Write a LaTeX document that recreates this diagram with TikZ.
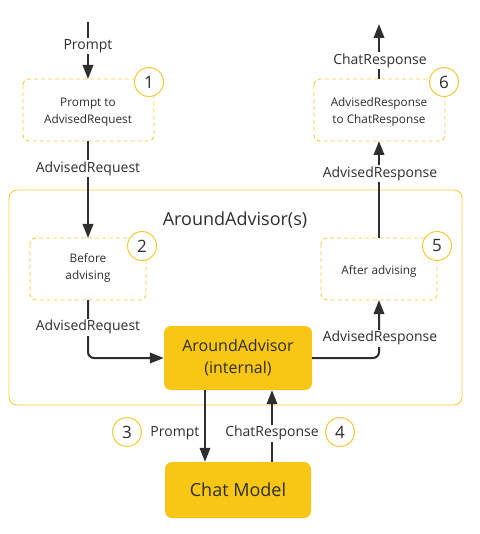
\documentclass[tikz,border=0pt]{standalone}
\usepackage{fontspec}
\setmainfont{Open Sans}
\usetikzlibrary{arrows.meta}
\definecolor{ylw}{HTML}{F8C614}
\definecolor{ylwline}{HTML}{F5CA3A}
\definecolor{ink}{HTML}{2E2E2E}
\begin{document}
\begin{tikzpicture}[x=1pt,y=-1pt,
  flow/.style={draw=ink,line width=2pt,-{Triangle[length=14pt,width=10.5pt]}},
  lbl/.style={fill=white,inner sep=1.5pt,font=\fontsize{14}{16}\selectfont,text=ink},
  stepbox/.style={draw=ylwline,dash pattern=on 4pt off 3pt,line width=0.9pt,rounded corners=6pt,fill=white},
  boxtxt/.style={font=\fontsize{11.8}{16.5}\selectfont,text=ink,align=center},
  numc/.style={circle,draw=ylwline,line width=1pt,fill=white,minimum size=29pt,inner sep=0pt,font=\fontsize{17}{17}\selectfont,text=ink},
  solidbox/.style={fill=ylw,rounded corners=7pt,text=ink,align=center}]
\useasboundingbox (0,0) rectangle (479,534);
% outer box
\draw[ylwline,line width=0.9pt,rounded corners=8pt] (9,190) rectangle (462,405);
\node[font=\fontsize{18}{20}\selectfont,text=ink] (title) at (235,220) {AroundAdvisor(s)};
% step boxes
\draw[stepbox] (23,79) rectangle (154,141);
\node[boxtxt] (b1) at (88,112) {Prompt to\\AdvisedRequest};
\coordinate (b1t) at (88,79); \coordinate (b1b) at (88,141);
\draw[stepbox] (30,238) rectangle (146,300);
\node[boxtxt] (b2) at (88,268) {Before\\advising};
\coordinate (b2t) at (88,238); \coordinate (b2b) at (88,300);
\draw[stepbox] (321,238) rectangle (437,300);
\node[boxtxt] (b5) at (379,271) {After advising};
\coordinate (b5t) at (379,238); \coordinate (b5b) at (379,300);
\draw[stepbox] (314,79) rectangle (445,141);
\node[boxtxt] (b6) at (379,112) {AdvisedResponse\\to ChatResponse};
\coordinate (b6t) at (379,79); \coordinate (b6b) at (379,141);
% solid boxes
\node[solidbox,minimum width=148pt,minimum height=64pt,font=\fontsize{16}{22}\selectfont] (aa) at (238,358) {AroundAdvisor\\(internal)};
\node[solidbox,minimum width=146pt,minimum height=56pt,font=\fontsize{18}{20}\selectfont] (cm) at (238,490) {Chat Model};
% coordinates
\coordinate (start) at (88,22);
\coordinate (finish) at (379,24);
% connectors
\draw[flow] (start) -- (b1t);
\node[lbl] (l1) at (88,46) {Prompt};
\draw[flow] (b1b) -- (b2t);
\node[lbl] (l2) at (88,169) {AdvisedRequest};
\draw[flow,rounded corners=6pt] (b2b) |- (aa.west);
\node[lbl] (l3) at (88,327) {AdvisedRequest};
\draw[flow,rounded corners=6pt] (aa.east) -| (b5b);
\node[lbl] (l4) at (380,338) {AdvisedResponse};
\draw[flow] (b5t) -- (b6b);
\node[lbl] (l5) at (380,174) {AdvisedResponse};
\draw[flow] (b6t) -- (finish);
\node[lbl] (l6) at (380,61) {ChatResponse};
\draw[flow] (aa.south -| 205,0) -- (cm.north -| 205,0);
\node[lbl,anchor=east] (l7) at (201,433) {Prompt};
\draw[flow] (cm.north -| 272,0) -- (aa.south -| 272,0);
\node[lbl] (l8) at (272,433) {ChatResponse};
% number circles
\node[numc] (n1) at (149,82) {1};
\node[numc] (n2) at (142,246) {2};
\node[numc] (n3) at (127,432) {3};
\node[numc] (n4) at (340,432) {4};
\node[numc] (n5) at (437,246) {5};
\node[numc] (n6) at (444,82) {6};
\end{tikzpicture}
\end{document}
